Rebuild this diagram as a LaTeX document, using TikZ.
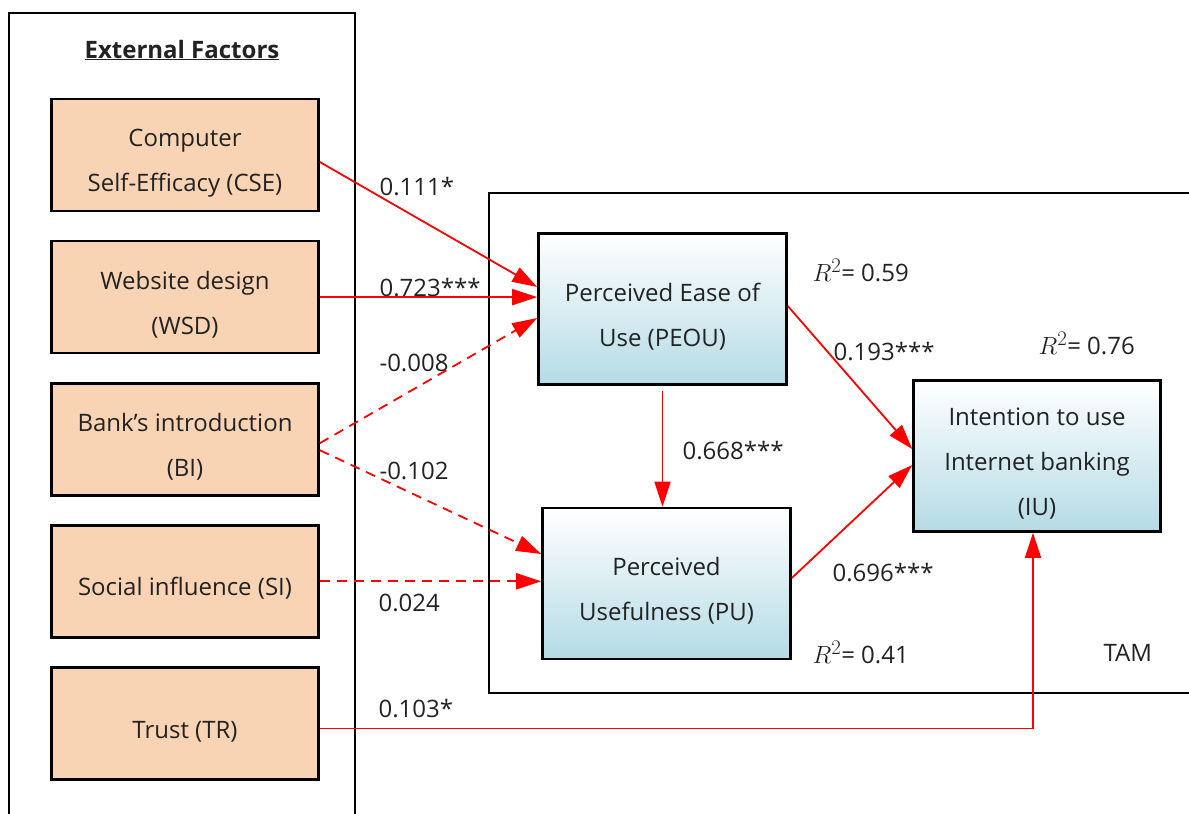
\documentclass[tikz,border=0pt]{standalone}
\usepackage{fontspec}
\setmainfont{Open Sans}
\usetikzlibrary{arrows.meta,positioning}
\definecolor{factorfill}{HTML}{F9D4B4}
\definecolor{tamblue}{HTML}{B4DBE5}
\definecolor{inkgray}{HTML}{222222}
\newcommand{\topgap}{\rule{0pt}{33pt}}
\newcommand{\rsq}{{\fontsize{28}{28}\selectfont$R^2$}}

\begin{document}
\begin{tikzpicture}[x=1pt, y=-1pt, node distance=27.5pt, text=inkgray,
	font=\fontsize{24}{45}\selectfont,
	factor node/.style={rectangle,draw=black,line width=2.6pt,fill=factorfill,minimum width=267pt,minimum height=112pt,align=center},
	tam node/.style={rectangle,draw=black,line width=2.6pt,top color=white,bottom color=tamblue,minimum width=248pt,minimum height=151pt,align=center},
	coef/.style={anchor=west,font=\fontsize{24}{28}\selectfont},
	every edge/.style={draw=red,line width=1.8pt,-{Triangle[length=25pt,width=16pt]}},
	weak/.style={dash pattern=on 10pt off 7pt}]
	
	\useasboundingbox (0,0) rectangle (1189,814);
	\draw[line width=1.6pt] (9,830) |- (355,13) -- (355,830);
	\draw[line width=2.2pt] (1200,193) -| (489,693) -- (1200,693);
	
	\node (ext) at (182,50) {\underline{\textbf{External Factors}}};
	\node[factor node] (cse) at (185,155) {\topgap Computer\\Self-Efficacy (CSE)};
	\node[factor node] (wsd) [below=of cse] {\topgap Website design\\(WSD)};
	\node[factor node] (bi) [below=of wsd] {\topgap Bank’s introduction\\(BI)};
	\node[factor node] (si) [below=of bi] {\topgap Social influence (SI)};
	\node[factor node] (tr) [below=of si] {\topgap Trust (TR)};
	
	\node[tam node] (peou) at (662.5,309) {\topgap Perceived Ease of\\Use (PEOU)};
	\node[tam node] (pu) at (666.5,583.5) {\topgap Perceived\\Usefulness (PU)};
	\node[tam node,minimum width=247pt] (iu) at (1037,456) {\topgap Intention to use\\Internet banking\\(IU)};
	
	\node[coef] (c1) at (376,187) {0.111*};
	\node[coef] (c2) at (376,288) {0.723***};
	\node[coef] (c3) at (376,363) {-0.008};
	\node[coef] (c4) at (376,471) {-0.102};
	\node[coef] (c5) at (375,603) {0.024};
	\node[coef] (c6) at (375,709) {0.103*};
	\node[coef] (c7) at (679,451) {0.668***};
	\node[coef] (c8) at (830,352) {0.193***};
	\node[coef] (c9) at (829,573) {0.696***};
	\node[coef] (r1) at (809,270) {\rsq= 0.59};
	\node[coef] (r2) at (1035,343) {\rsq= 0.76};
	\node[coef] (r3) at (809,652) {\rsq= 0.41};
	\node[coef] (tam) at (1100,653) {TAM};
	
	\path ([yshift=-7pt]cse.east) edge ([yshift=22pt]peou.west)
	(wsd.east) edge (wsd.east -| peou.west)
	([yshift=-4pt]bi.east) edge[weak] ([yshift=-9pt]peou.west)
	([yshift=-11pt]bi.east) edge[weak] ([yshift=29.5pt]pu.west)
	(si.east) edge[weak] (si.east -| pu.west)
	([yshift=-5pt]tr.east) edge[to path={-| (\tikztotarget)}] ([xshift=-4pt]iu.south)
	([yshift=-5pt]peou.south) edge (peou.south |- pu.north)
	([yshift=3pt]peou.east) edge ([yshift=7pt]iu.west)
	([yshift=5.5pt]pu.east) edge ([yshift=-9pt]iu.west);
\end{tikzpicture}
\end{document}
